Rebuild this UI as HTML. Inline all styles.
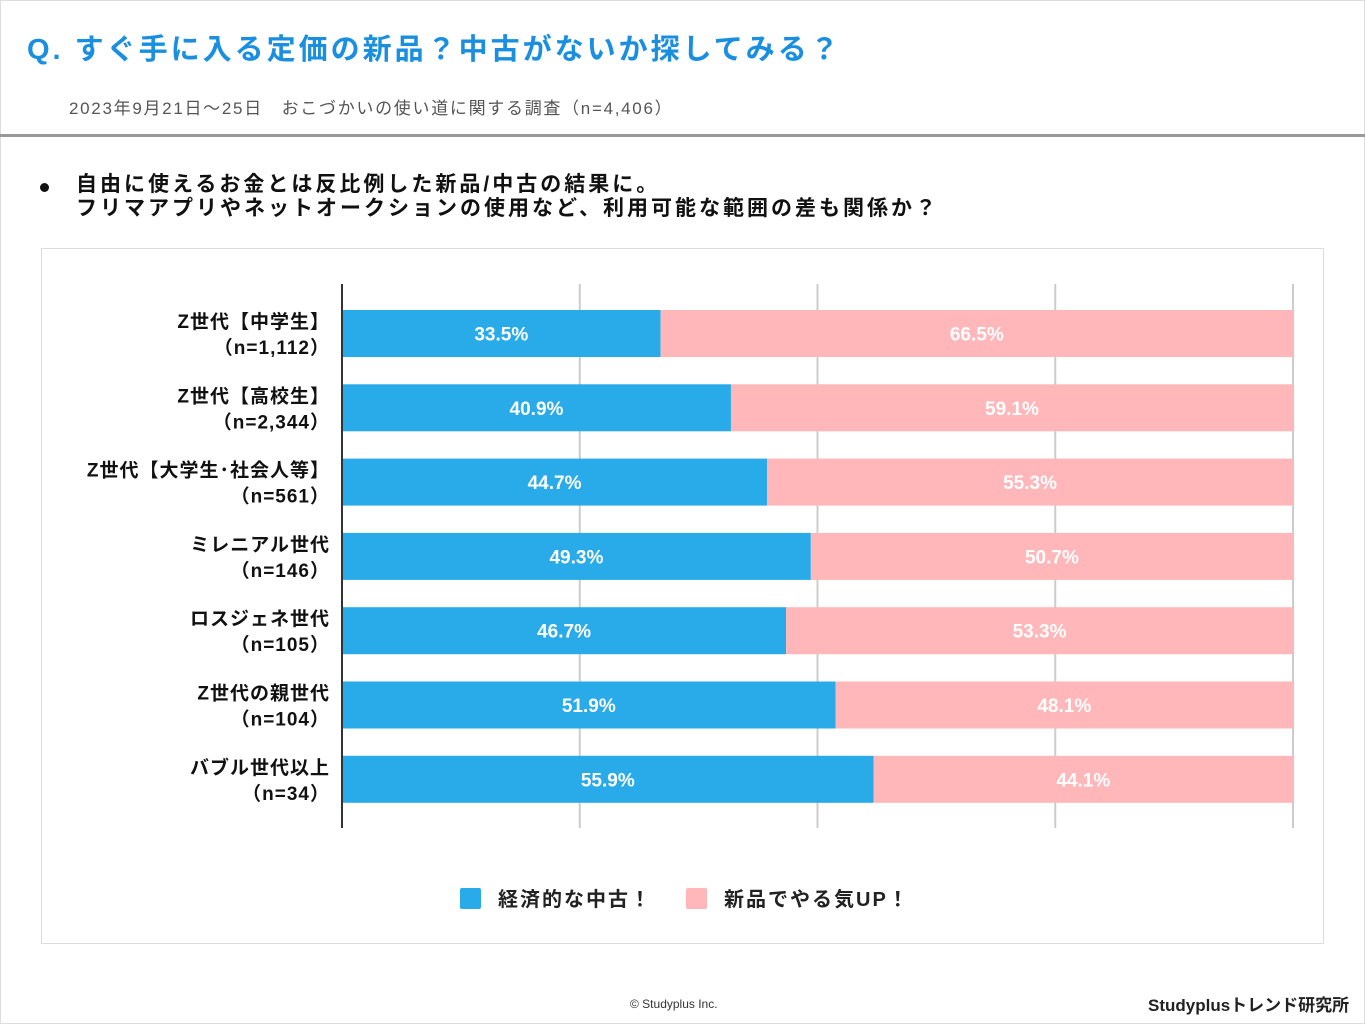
<!DOCTYPE html>
<html><head><meta charset="utf-8">
<style>
body{margin:0;width:1365px;height:1024px;background:#fff;font-family:"Liberation Sans","Noto Sans CJK JP",sans-serif;overflow:hidden;position:relative}
.abs{position:absolute}
</style></head><body>
<div class="abs" style="left:0;top:0;width:1363px;height:1022px;border:1px solid #ddd"></div>
<div class="abs" style="left:27px;top:26px;font-size:29px;letter-spacing:3px;font-weight:bold;color:#1a8fe0;white-space:nowrap">Q. すぐ手に入る定価の新品？中古がないか探してみる？</div>
<div class="abs" style="left:69px;top:94px;font-size:17px;letter-spacing:1.7px;color:#555;white-space:nowrap">2023年9月21日～25日　おこづかいの使い道に関する調査（n=4,406）</div>
<div class="abs" style="left:0;top:134px;width:1365px;height:3px;background:#999"></div>
<div class="abs" style="left:40px;top:183px;width:9px;height:9px;border-radius:50%;background:#111"></div>
<div class="abs" style="left:76px;top:173px;font-size:21px;letter-spacing:3px;font-weight:bold;color:#111;line-height:24px;white-space:nowrap">自由に使えるお金とは反比例した新品/中古の結果に。<br>フリマアプリやネットオークションの使用など、利用可能な範囲の差も関係か？</div>
<div class="abs" style="left:41px;top:248px;width:1281px;height:694px;border:1px solid #ddd"></div>
<svg class="abs" style="left:0;top:0" width="1365" height="1024" id="chart"></svg>
<div class="abs" style="left:630px;top:997px;font-size:12px;color:#333">© Studyplus Inc.</div>
<div class="abs" style="left:1148px;top:991px;font-size:17px;font-weight:bold;color:#222;white-space:nowrap">Studyplusトレンド研究所</div>
<script>
const categories=["Z世代【中学生】","Z世代【高校生】","Z世代【大学生･社会人等】","ミレニアル世代","ロスジェネ世代","Z世代の親世代","バブル世代以上"];
const sampleSizes=["(n=1,112)","(n=2,344)","(n=561)","(n=146)","(n=105)","(n=104)","(n=34)"];
const usedValues=[33.5,40.9,44.7,49.3,46.7,51.9,55.9];
const newValues=[66.5,59.1,55.3,50.7,53.3,48.1,44.1];
const seriesNames=["経済的な中古！","新品でやる気UP！"];
const gridTicks=[0,25,50,75,100];

const NS="http://www.w3.org/2000/svg";
const svg=document.getElementById('chart');
const x0=342,x1=1293,yTop=284,yBot=828,rowStart=310,rowPitch=74.3,barH=47;
const xs=v=>x0+(x1-x0)*v/100;
const yr=i=>rowStart+i*rowPitch;
function mk(t,a){const e=document.createElementNS(NS,t);for(const k in a)e.setAttribute(k,a[k]);svg.appendChild(e);return e;}
gridTicks.forEach((t,i)=>{if(t===0)return;
 const g=mk('line',{x1:xs(t),x2:xs(t),y1:yTop,y2:yBot,stroke:'#ccc','stroke-width':2});
 
 
});
const colors=['#29abe9','#ffb7b9'];
categories.forEach((c,i)=>{
 const y=yr(i);
 const vals=[usedValues[i],newValues[i]];let acc=0;
 vals.forEach((v,s)=>{
  const r=mk('rect',{x:xs(acc),y:y,width:xs(acc+v)-xs(acc),height:barH,fill:colors[s]});
  
  
  const t=mk('text',{x:(xs(acc)+xs(acc+v))/2,y:y+barH/2+7,'text-anchor':'middle','font-size':19,'font-weight':'bold',fill:'#fff'});
  t.textContent=v.toFixed(1)+'%';
  
  
  acc+=v;
 });
 const l1=mk('text',{x:330,y:y+18,'text-anchor':'end','font-size':19,'font-weight':'bold',fill:'#111','letter-spacing':1});
 l1.textContent=c;
 
 
 const l2=mk('text',{x:330,y:y+44,'text-anchor':'end','font-size':19,'font-weight':'bold',fill:'#111','letter-spacing':1});
 l2.textContent=sampleSizes[i].replace('(','（').replace(')','）');
 
 
});
const ax=mk('line',{x1:x0,x2:x0,y1:yTop,y2:yBot,stroke:'#333','stroke-width':2});


const lx=[460,686];
seriesNames.forEach((n,s)=>{
 const r=mk('rect',{x:lx[s],y:888,width:21,height:21,fill:colors[s],rx:2});
 
 
 const t=mk('text',{x:lx[s]+38,y:906,'font-size':20,'font-weight':'bold',fill:'#222','letter-spacing':2});
 t.textContent=n;
 
 
});
</script>
</body></html>
